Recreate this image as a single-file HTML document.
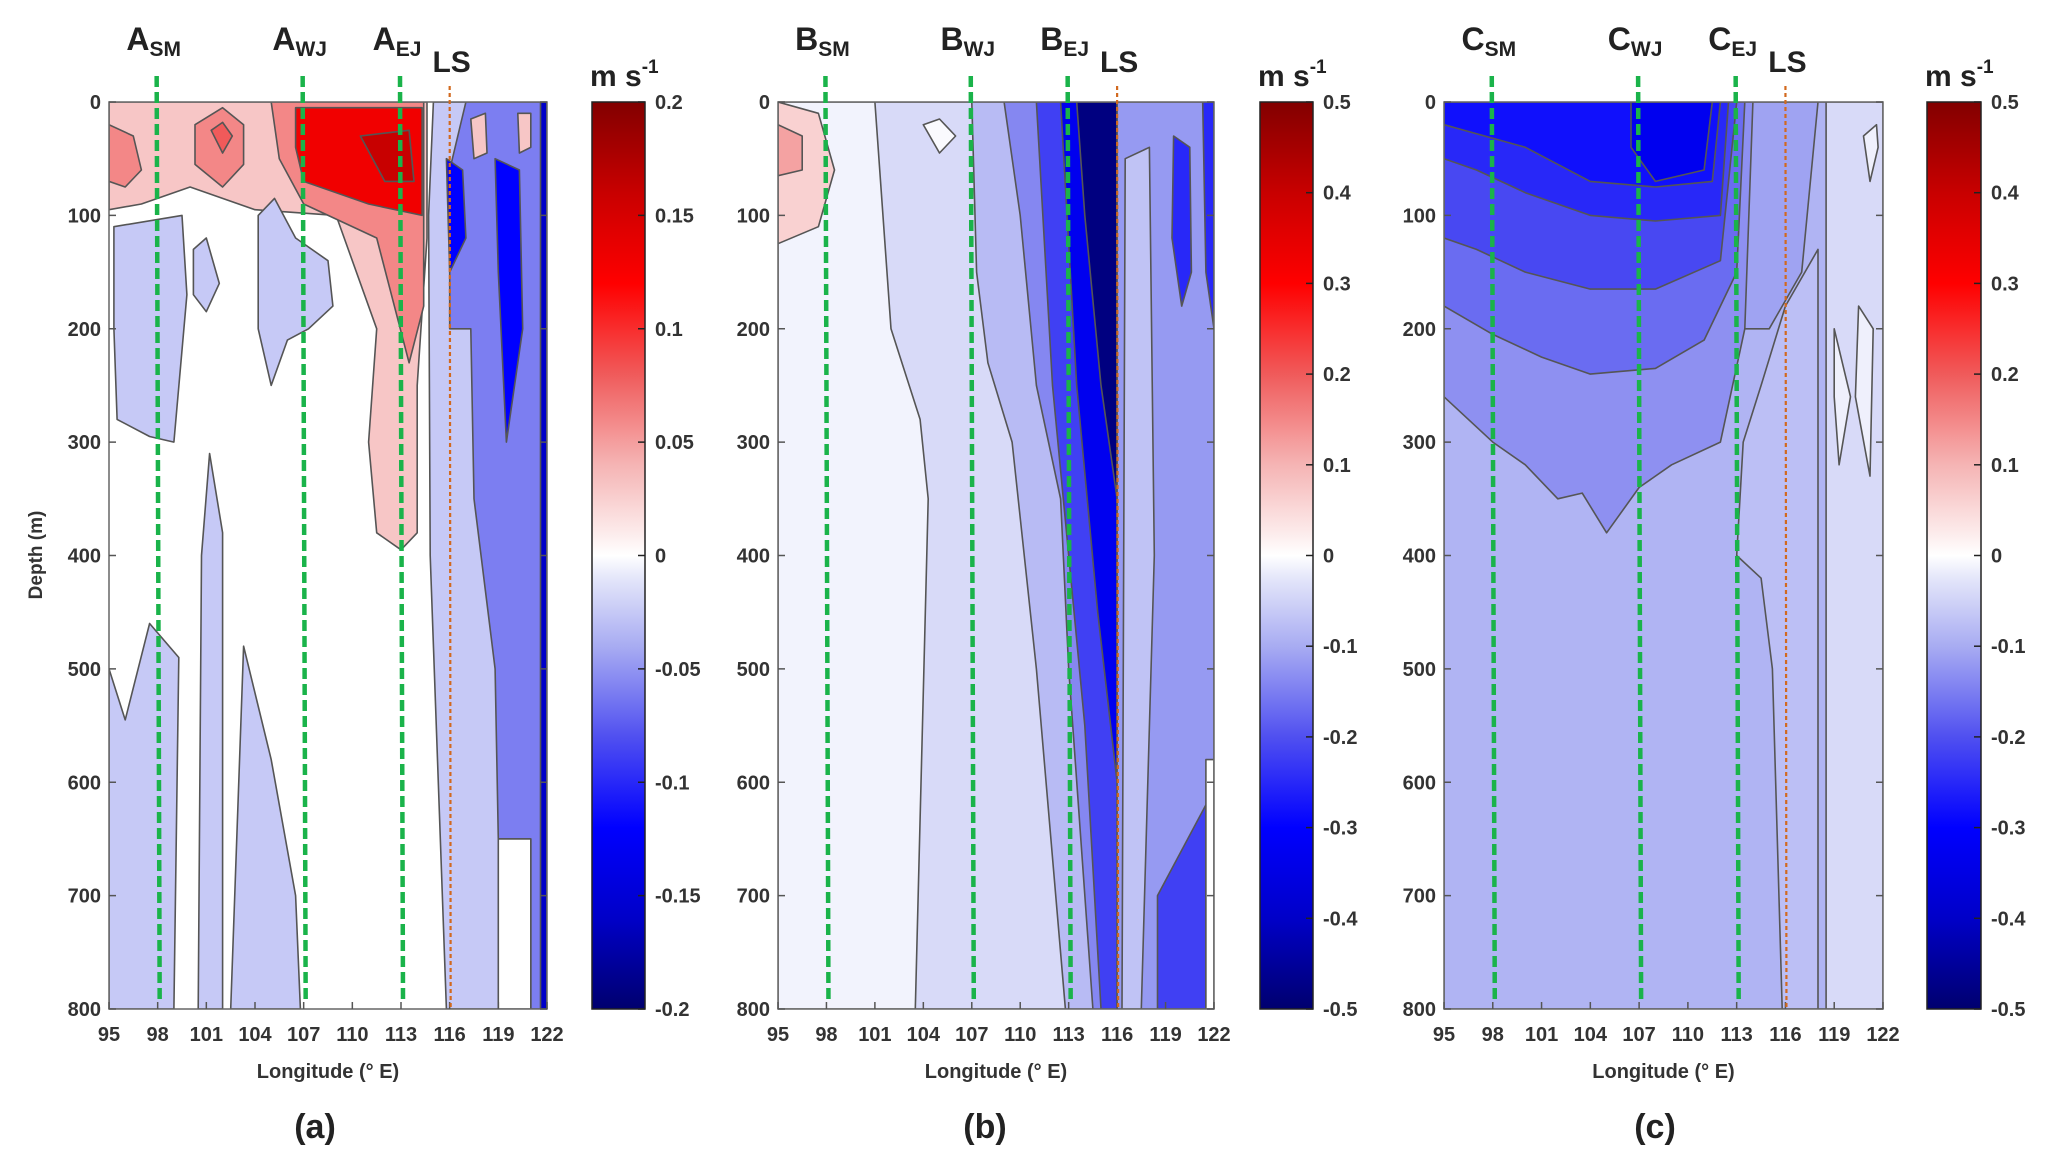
<!DOCTYPE html>
<html><head><meta charset="utf-8"><style>
html,body{margin:0;padding:0;background:#fff;}
svg{display:block;font-family:"Liberation Sans",sans-serif;}
</style></head><body>
<svg id="fig" width="2053" height="1165" viewBox="0 0 2053 1165" xmlns="http://www.w3.org/2000/svg"></svg>
<script>
// ---- data ----
const lonTicks = [95,98,101,104,107,110,113,116,119,122];
const depthTicks = [0,100,200,300,400,500,600,700,800];
const markerLons = [98,107,113];
const lsLon = 116;
const cbTicksA = [0.2,0.15,0.1,0.05,0,-0.05,-0.1,-0.15,-0.2];
const cbTicksBC = [0.5,0.4,0.3,0.2,0.1,0,-0.1,-0.2,-0.3,-0.4,-0.5];
const regionsA = [
 {v:0.03,p:[[95,0],[114.6,0],[114.6,120],[114,250],[114,380],[113,395],[111.5,380],[111,300],[111.5,200],[109,100],[104,95],[100,75],[97,90],[95,95]]},
 {v:0.06,p:[[105,0],[114.4,0],[114.4,180],[113.5,230],[111.5,120],[107,90],[105.5,50]]},
 {v:0.06,p:[[100.3,20],[102,5],[103.3,20],[103.3,55],[102,75],[100.3,55]]},
 {v:0.08,p:[[101.3,25],[102,18],[102.6,30],[102,45]]},
 {v:0.06,p:[[95,20],[96.5,30],[97,60],[96,75],[95,70]]},
 {v:0.13,p:[[106.5,5],[114.3,5],[114.3,100],[111,90],[107,70],[106.5,40]]},
 {v:0.16,p:[[110.5,30],[113.5,25],[113.8,70],[112,70]]},
 {v:-0.025,p:[[115,0],[122,0],[122,800],[115.8,800],[114.8,400],[114.7,100]]},
 {v:-0.06,p:[[116,60],[117,0],[122,0],[122,800],[121,800],[121,650],[119,650],[118.8,500],[117.5,350],[117.3,200],[116,200]]},
 {v:-0.12,p:[[115.8,50],[116.8,60],[117,120],[116,150]]},
 {v:-0.12,p:[[118.8,50],[120.3,60],[120.5,200],[119.5,300],[119,150]]},
 {v:-0.16,p:[[121.6,0],[122,0],[122,800],[121.6,800]]},
 {v:0,p:[[119,650],[121,650],[121,800],[119,800]]},
 {v:0.03,p:[[117.3,15],[118.2,10],[118.3,45],[117.5,50]]},
 {v:0.03,p:[[120.2,10],[121,10],[121,40],[120.3,45]]},
 {v:-0.025,p:[[95.3,110],[99.5,100],[99.8,170],[99,300],[97.5,295],[95.5,280],[95.3,200]]},
 {v:-0.025,p:[[100.2,130],[101,120],[101.8,160],[101,185],[100.2,170]]},
 {v:-0.025,p:[[104.2,100],[105.2,85],[106.5,120],[108.5,140],[108.8,180],[107.3,200],[106,210],[105,250],[104.2,200]]},
 {v:-0.025,p:[[100.5,800],[100.7,400],[101.2,310],[102,380],[102,800]]},
 {v:-0.025,p:[[102.5,800],[103.3,480],[105,580],[106.5,700],[106.8,800]]},
 {v:-0.025,p:[[95,500],[96,545],[97.5,460],[99.3,490],[99,800],[95,800]]}
];
const regionsB = [
 {v:-0.012,p:[[95,0],[122,0],[122,800],[95,800]]},
 {v:-0.04,p:[[101,0],[122,0],[122,800],[103.5,800],[104.3,350],[103.8,280],[102,200]]},
 {v:-0.08,p:[[107,0],[122,0],[122,800],[112.8,800],[111,500],[109.5,300],[108,230],[107.3,150]]},
 {v:-0.14,p:[[109,0],[122,0],[122,800],[114.5,800],[113,500],[112.5,350],[111,250],[110,100]]},
 {v:-0.22,p:[[111,0],[116,0],[116,800],[115,800],[114,550],[113,400],[112,250]]},
 {v:-0.33,p:[[112.5,0],[116,0],[116,600],[114.8,450],[113.5,250]]},
 {v:-0.48,p:[[113.5,0],[116,0],[116,350],[115,250],[114,100]]},
 {v:-0.12,p:[[116,0],[122,0],[122,800],[116,800]]},
 {v:-0.07,p:[[116.5,50],[118,40],[118.3,400],[117.5,800],[116.3,800]]},
 {v:-0.25,p:[[119.5,30],[120.5,40],[120.6,150],[120,180],[119.4,120]]},
 {v:-0.25,p:[[121.3,0],[122,0],[122,200],[121.5,150]]},
 {v:-0.22,p:[[118.5,700],[121.5,620],[121.5,800],[118.5,800]]},
 {v:0,p:[[121.5,580],[122,580],[122,800],[121.5,800]]},
 {v:0.06,p:[[95,0],[97.5,10],[98.5,60],[97.5,110],[95,125]]},
 {v:0.12,p:[[95,20],[96.5,30],[96.5,60],[95,65]]},
 {v:-0.005,p:[[104,20],[105,15],[106,30],[105,45]]}
];
const regionsC = [
 {v:-0.09,p:[[95,0],[122,0],[122,800],[95,800]]},
 {v:-0.11,p:[[113,0],[118,0],[117,150],[115,200],[113.5,200]]},
 {v:-0.13,p:[[95,0],[114,0],[113.5,200],[112,300],[109,320],[107,340],[105,380],[103.5,345],[102,350],[100,320],[98,300],[95,260]]},
 {v:-0.17,p:[[95,0],[113.5,0],[113,150],[111,210],[108,235],[104,240],[101,225],[98,205],[95,180]]},
 {v:-0.21,p:[[95,0],[113,0],[112,140],[108,165],[104,165],[100,150],[97,130],[95,120]]},
 {v:-0.25,p:[[95,0],[112.5,0],[112,100],[108,105],[104,100],[100,80],[97,60],[95,50]]},
 {v:-0.28,p:[[95,0],[112,0],[111.5,70],[108,75],[104,70],[100,40],[95,20]]},
 {v:-0.33,p:[[106.5,0],[111.5,0],[111,60],[108,70],[106.5,40]]},
 {v:-0.075,p:[[113,400],[113.4,300],[114.5,250],[116,180],[118,130],[118,800],[115.8,800],[115.2,500],[114.5,420]]},
 {v:-0.04,p:[[118.5,0],[122,0],[122,800],[118.5,800]]},
 {v:-0.015,p:[[119,200],[120,260],[119.3,320],[119,260]]},
 {v:-0.015,p:[[120.5,180],[121.4,200],[121.2,330],[120.3,260]]},
 {v:-0.015,p:[[120.8,30],[121.6,20],[121.7,40],[121.2,70]]}
];
// ---- layout ----
const panels = [
 {id:'a',L:'A',x0:109,x1:547,cb0:592,cb1:645,vmax:0.2,ticks:cbTicksA,regions:regionsA,tx:315},
 {id:'b',L:'B',x0:778,x1:1214,cb0:1260,cb1:1313,vmax:0.5,ticks:cbTicksBC,regions:regionsB,tx:985},
 {id:'c',L:'C',x0:1444,x1:1883,cb0:1927,cb1:1981,vmax:0.5,ticks:cbTicksBC,regions:regionsC,tx:1655}
];
const Y0=102,Y1=1009;
const stops=[[-1,[0,0,110]],[-0.8,[0,0,200]],[-0.6,[0,0,255]],[-0.4,[80,80,240]],[-0.2,[168,172,242]],[-0.05,[228,230,250]],[0,[255,255,255]],[0.05,[252,235,235]],[0.2,[245,180,180]],[0.4,[240,90,90]],[0.6,[255,0,0]],[0.8,[200,0,0]],[1,[130,0,0]]];
function cmap(t){t=Math.max(-1,Math.min(1,t));for(let i=0;i<stops.length-1;i++){const[a,ca]=stops[i],[b,cb]=stops[i+1];if(t<=b){const f=(t-a)/(b-a);return 'rgb('+ca.map((c,k)=>Math.round(c+(cb[k]-c)*f)).join(',')+')';}}return 'rgb(130,0,0)';}
const NS='http://www.w3.org/2000/svg';
const svg=document.getElementById('fig');
function el(tag,attrs,parent){const e=document.createElementNS(NS,tag);for(const k in attrs)e.setAttribute(k,attrs[k]);(parent||svg).appendChild(e);return e;}
const defs=el('defs',{});
panels.forEach(P=>{
 const xs=lon=>P.x0+(lon-95)/(122-95)*(P.x1-P.x0);
 const ys=d=>Y0+d/800*(Y1-Y0);
 const g=el('g',{});
 
 
 const cp=el('clipPath',{id:'clip'+P.id},defs);
 el('rect',{x:P.x0,y:Y0,width:P.x1-P.x0,height:Y1-Y0},cp);
 const bg=el('rect',{x:P.x0,y:Y0,width:P.x1-P.x0,height:Y1-Y0,fill:'#fff'},g);
 
 
 const rg=el('g',{'clip-path':'url(#clip'+P.id+')'},g);
 P.regions.forEach(r=>{
  const poly=el('polygon',{points:r.p.map(q=>xs(q[0]).toFixed(1)+','+ys(q[1]).toFixed(1)).join(' '),fill:cmap(r.v/P.vmax),stroke:'#555','stroke-width':1.6,'stroke-linejoin':'round'},rg);
  
  
 });
 el('rect',{x:P.x0,y:Y0,width:P.x1-P.x0,height:Y1-Y0,fill:'none',stroke:'#666','stroke-width':1.5},g);
 depthTicks.forEach(d=>{
  el('line',{x1:P.x0,x2:P.x0+7,y1:ys(d),y2:ys(d),stroke:'#555','stroke-width':1.5},g);
  el('line',{x1:P.x1,x2:P.x1-7,y1:ys(d),y2:ys(d),stroke:'#555','stroke-width':1.5},g);
  const t=el('text',{x:P.x0-8,y:ys(d)+7,'text-anchor':'end','font-size':20,'font-weight':'bold',fill:'#333'},g);
  t.textContent=d;
  
  
 });
 lonTicks.forEach(l=>{
  el('line',{x1:xs(l),x2:xs(l),y1:Y1,y2:Y1-7,stroke:'#555','stroke-width':1.5},g);
  const t=el('text',{x:xs(l),y:1041,'text-anchor':'middle','font-size':20,'font-weight':'bold',fill:'#333'},g);
  t.textContent=l;
  
  
 });
 const xt=el('text',{x:(P.x0+P.x1)/2,y:1078,'text-anchor':'middle','font-size':20,'font-weight':'bold',fill:'#333'},g);
 xt.textContent='Longitude (° E)';
 
 
 if(P.id==='a'){
  const yt=el('text',{x:0,y:0,transform:'translate(42,555) rotate(-90)','text-anchor':'middle','font-size':19,'font-weight':'bold',fill:'#333'},g);
  yt.textContent='Depth (m)';
  
  
 }
 const pl=el('text',{x:P.tx,y:1138,'text-anchor':'middle','font-size':34,'font-weight':'bold',fill:'#222'},g);
 pl.textContent='('+P.id+')';
 
 
 const subs=['SM','WJ','EJ'];
 markerLons.forEach((l,i)=>{
  const ln=el('line',{x1:xs(l)-1,x2:xs(l)+2,y1:Y0-26,y2:Y1-10,stroke:'#1ab34a','stroke-width':4.5,'stroke-dasharray':'11,5'},g);
  
  
  const t=el('text',{x:xs(l)-4,y:50,'text-anchor':'middle','font-size':32,'font-weight':'bold',fill:'#222'},g);
  
  
  t.appendChild(document.createTextNode(P.L));
  const ts=el('tspan',{'font-size':21,dy:6},t);ts.textContent=subs[i];
 });
 const ls=el('line',{x1:xs(lsLon),x2:xs(lsLon)+1,y1:Y0-16,y2:Y1,stroke:'#d2691e','stroke-width':2.2,'stroke-dasharray':'4,3'},g);
 
 
 const lst=el('text',{x:xs(lsLon)+2,y:72,'text-anchor':'middle','font-size':30,'font-weight':'bold',fill:'#222'},g);
 lst.textContent='LS';
 
 
 const gid='grad'+P.id;
 const lg=el('linearGradient',{id:gid,x1:0,y1:0,x2:0,y2:1},defs);
 for(let i=0;i<=40;i++){const t=1-2*i/40;el('stop',{offset:(i/40),'stop-color':cmap(t)},lg);}
 const cb=el('rect',{x:P.cb0,y:Y0,width:P.cb1-P.cb0,height:Y1-Y0,fill:'url(#'+gid+')',stroke:'#222','stroke-width':1.5},g);
 
 
 P.ticks.forEach(v=>{
  const y=Y0+(P.vmax-v)/(2*P.vmax)*(Y1-Y0);
  el('line',{x1:P.cb1-7,x2:P.cb1,y1:y,y2:y,stroke:'#222','stroke-width':1.5},g);
  const t=el('text',{x:P.cb1+10,y:y+7,'font-size':20,'font-weight':'bold',fill:'#333'},g);
  t.textContent=v;
  
  
 });
 const cu=el('text',{x:P.cb0-2,y:86,'font-size':30,'font-weight':'bold',fill:'#222'},g);
 
 
 cu.appendChild(document.createTextNode('m s'));
 const sup=el('tspan',{'font-size':19,dy:-13},cu);sup.textContent='-1';
});
</script>
</body></html>
